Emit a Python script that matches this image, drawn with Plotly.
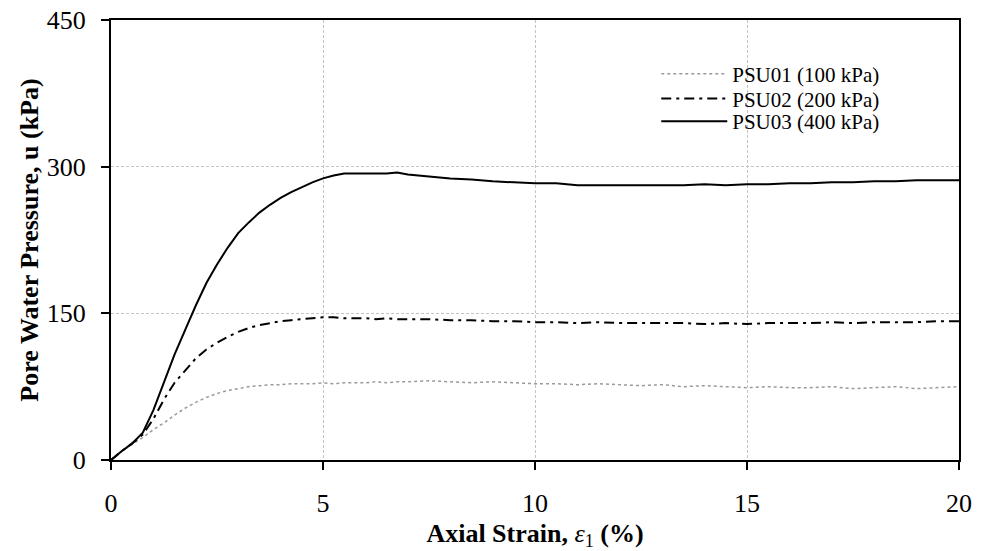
import plotly.graph_objects as go

# Axial strain (%) sample points shared by the three tests
strain = [0, 0.25, 0.5, 0.75, 1.0, 1.25, 1.5, 1.75, 2.0, 2.25, 2.5, 2.75, 3.0, 3.25, 3.5,
          3.75, 4.0, 4.25, 4.5, 4.75, 5.0, 5.25, 5.5, 5.75, 6.0, 6.25, 6.5, 6.75, 7.0,
          7.5, 8.0, 8.5, 9.0, 9.5, 10.0, 10.5, 11.0, 11.5, 12.0, 12.5, 13.0, 13.5, 14.0,
          14.5, 15.0, 15.5, 16.0, 16.5, 17.0, 17.5, 18.0, 18.5, 19.0, 19.5, 20.0]

# Pore water pressure (kPa)
psu01 = [0, 9, 16, 23, 31, 38, 46, 53, 59, 64, 68, 71, 73, 75, 76,
         77, 77, 78, 78, 78, 79, 78, 79, 79, 79, 80, 79, 80, 80,
         81, 80, 79, 80, 79, 78, 78, 77, 78, 77, 76, 77, 75, 76,
         75, 74, 75, 74, 74, 75, 73, 74, 75, 73, 74, 75]
psu02 = [0, 9, 17, 26, 42, 62, 79, 92, 104, 113, 120, 126, 131, 135, 138,
         140, 142, 143, 144, 145, 146, 146, 145, 145, 145, 144, 145, 144, 144,
         144, 143, 143, 142, 142, 141, 141, 140, 141, 140, 140, 140, 140, 139,
         140, 139, 140, 140, 140, 141, 140, 141, 141, 141, 142, 142]
psu03 = [0, 9, 17, 28, 51, 79, 108, 133, 158, 181, 200, 217, 232, 243, 253,
         261, 268, 274, 279, 284, 288, 291, 293, 293, 293, 293, 293, 294, 292,
         290, 288, 287, 285, 284, 283, 283, 281, 281, 281, 281, 281, 281, 282,
         281, 282, 282, 283, 283, 284, 284, 285, 285, 286, 286, 286]

names = ['PSU01 (100 kPa)', 'PSU02 (200 kPa)', 'PSU03 (400 kPa)']

serif = 'Liberation Serif, Times New Roman, serif'

fig = go.Figure()
fig.add_trace(go.Scatter(x=strain, y=psu01, mode='lines', name=names[0], legend='legend',
                         line=dict(color='#9a9a9a', width=1.5, dash='dot')))
fig.add_trace(go.Scatter(x=strain, y=psu02, mode='lines', name=names[1], legend='legend2',
                         line=dict(color='black', width=2, dash='10px,5px,3px,5px')))
fig.add_trace(go.Scatter(x=strain, y=psu03, mode='lines', name=names[2], legend='legend3',
                         line=dict(color='black', width=2)))

# one legend per trace so the rows can sit as tightly as in the original
def legend_box(ypos):
    return dict(x=0.643, y=ypos, xanchor='left', yanchor='middle',
                bgcolor='rgba(0,0,0,0)', borderwidth=0,
                font=dict(family=serif, size=21, color='black'),
                itemwidth=66)

fig.update_layout(
    width=981, height=551,
    margin=dict(l=111, r=22, t=20, b=91),
    plot_bgcolor='white',
    paper_bgcolor='white',
    font=dict(family=serif, size=26, color='black'),
    showlegend=True,
    legend=legend_box(0.877),
    legend2=legend_box(0.821),
    legend3=legend_box(0.769),
    xaxis=dict(
        range=[0, 20], tickvals=[0, 5, 10, 15, 20], automargin=False,
        title=dict(text='<b>Axial Strain, </b><i>ε</i><sub>1</sub><b> (%)</b>',
                   font=dict(family=serif, size=26), standoff=10),
        showline=True, linecolor='black', linewidth=2, mirror=True,
        ticks='outside', ticklen=8, tickwidth=1.5, tickcolor='black',
        ticklabelstandoff=11, tickfont=dict(family=serif, size=26),
        ticklabeloverflow='allow',
        showgrid=True, gridcolor='#c4c4c4', griddash='3px,2px', gridwidth=1,
        zeroline=False,
    ),
    yaxis=dict(
        range=[0, 450], tickvals=[0, 150, 300, 450], automargin=False,
        title=dict(text='<b>Pore Water Pressure, u (kPa)</b>',
                   font=dict(family=serif, size=26), standoff=1),
        showline=True, linecolor='black', linewidth=2, mirror=True,
        ticks='outside', ticklen=8, tickwidth=1.5, tickcolor='black',
        ticklabelstandoff=10, tickfont=dict(family=serif, size=26),
        ticklabeloverflow='allow',
        showgrid=True, gridcolor='#c4c4c4', griddash='3px,2px', gridwidth=1,
        zeroline=False,
    ),
)

# drop the default 8px body margin so the 981x551 figure fills the window exactly
fig.write_html("out.html", config={'displayModeBar': False},
               post_script="document.body.style.margin='0';")
